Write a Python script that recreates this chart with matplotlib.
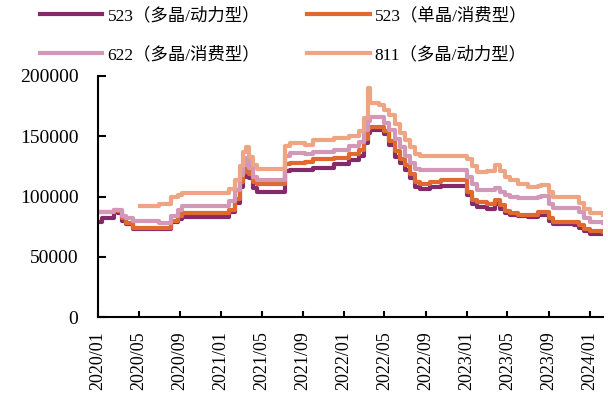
import numpy as np
import pandas as pd
import matplotlib
matplotlib.use("Agg")
from matplotlib import pyplot as plt

plt.rcParams['font.family'] = ['Liberation Serif', 'Noto Sans CJK SC']

dates = ['2020-01-01', '2020-01-13', '2020-02-18', '2020-03-01', '2020-03-13',
         '2020-03-25', '2020-04-15', '2020-05-06', '2020-07-01', '2020-07-25',
         '2020-08-06', '2020-08-25', '2020-09-06', '2021-01-01', '2021-01-25',
         '2021-02-10', '2021-02-25', '2021-03-06', '2021-03-15', '2021-03-25',
         '2021-04-06', '2021-04-18', '2021-07-01', '2021-07-10', '2021-07-25',
         '2021-09-06', '2021-10-01', '2021-12-01', '2022-01-15', '2022-02-15',
         '2022-03-01', '2022-03-13', '2022-03-19', '2022-04-15', '2022-05-01',
         '2022-05-15', '2022-06-01', '2022-06-15', '2022-07-01', '2022-07-15',
         '2022-08-01', '2022-08-15', '2022-09-15', '2022-10-15', '2022-12-15',
         '2023-01-01', '2023-01-15', '2023-02-01', '2023-03-01', '2023-03-25',
         '2023-04-10', '2023-04-25', '2023-05-10', '2023-06-01', '2023-07-01',
         '2023-08-01', '2023-08-10', '2023-09-01', '2023-09-15', '2023-11-15',
         '2023-12-01', '2023-12-15', '2024-01-01', '2024-02-08']

p523_poly = [79000, 82000, 87500, 86000, 80000, 77000, 73000, 73000, 73000, 73000,
             79000, 81500, 83000, 83000, 87000, 95000, 108000, 116000, 125000, 115000,
             107000, 104000, 104000, 121000, 122000, 122000, 124000, 127000, 130000, 134000,
             144000, 153000, 155000, 155000, 152000, 143000, 133000, 128000, 122000, 115000,
             108000, 106000, 108000, 109000, 109000, 101000, 94000, 91500, 90000, 94000,
             90000, 86000, 84700, 83500, 83200, 84500, 85000, 80000, 77000, 76300,
             74000, 71000, 69000, 69000]
p523_mono = [87000, 87000, 89000, 88000, 82000, 78000, 74000, 74000, 74000, 74000,
             80000, 84000, 86000, 86000, 89000, 98000, 112000, 120000, 128000, 119000,
             112000, 110000, 110000, 127000, 128000, 129000, 131000, 132000, 135000, 139000,
             148000, 157000, 158000, 158000, 154000, 146000, 138000, 131000, 126000, 119000,
             112000, 110000, 112000, 114000, 114000, 104000, 97000, 95500, 94000, 97500,
             93000, 88000, 86300, 85000, 84700, 87000, 87400, 82000, 79000, 79000,
             76000, 73000, 71000, 70500]
p622 = [87000, 87000, 89000, 88500, 84000, 82000, 80000, 79500, 78000, 78000,
        84000, 89000, 92000, 92000, 96000, 105000, 118000, 126000, 132000, 124000,
        116000, 114000, 114000, 134000, 136000, 135000, 137000, 139000, 142000, 145000,
        155000, 163000, 166000, 166000, 161000, 155000, 148000, 141000, 134000, 128000,
        123000, 122000, 122000, 122000, 122000, 116500, 110000, 105400, 105000, 107000,
        104000, 101000, 100000, 99000, 98700, 100000, 100500, 94000, 90200, 90200,
        87000, 82000, 79000, 78000]
p811 = [np.nan, np.nan, np.nan, np.nan, np.nan, np.nan, np.nan, 92000, 94000, 94000,
        100000, 101000, 103000, 103000, 106000, 114000, 125000, 137000, 141000, 133000,
        126000, 123000, 123000, 142000, 144000, 143000, 147000, 148500, 150000, 154000,
        165000, 190000, 178000, 176000, 172000, 168000, 160000, 153000, 147000, 141000,
        135000, 134000, 134000, 134000, 134000, 131000, 125000, 120600, 121000, 126000,
        121000, 116000, 113700, 110000, 108000, 108500, 109500, 104000, 100000, 99800,
        95000, 90000, 86000, 84500]

labels = ['523（多晶/动力型）', '523（单晶/消费型）', '622（多晶/消费型）', '811（多晶/动力型）']
colors = ['#852A69', '#E0692F', '#D398B7', '#EDA583']

x = pd.to_datetime(dates)

fig = plt.figure(figsize=(6.08, 4.18), dpi=100)
ax = fig.add_axes([0.161, 0.2416, 0.83, 0.5766])

handles = []
for series, lab, col in zip([p523_poly, p523_mono, p622, p811], labels, colors):
    h, = ax.plot(x, series, drawstyle='steps-post', color=col, lw=3, label=lab)
    handles.append(h)

ax.set_ylim(0, 200000)
ax.set_yticks(np.arange(0, 200001, 50000))
ax.set_xlim(pd.Timestamp('2020-01-01'), pd.Timestamp('2024-02-08'))
ticks = pd.date_range('2020-01-01', '2024-01-01', freq='4MS')
ax.set_xticks(ticks)
ax.set_xticklabels([t.strftime('%Y/%m') for t in ticks], rotation=90)

for s in ['top', 'right']:
    ax.spines[s].set_visible(False)
for s in ['left', 'bottom']:
    ax.spines[s].set_linewidth(1.5)
ax.tick_params(axis='y', direction='in', length=6, width=1.5, labelsize=14, pad=14)
ax.tick_params(axis='x', direction='in', length=4, width=1.5, labelsize=13, pad=10)

# legend fills column-wise, so reorder to get rows like the original
order = [0, 2, 1, 3]
fig.legend([handles[i] for i in order], [labels[i] for i in order],
           loc='upper left', bbox_to_anchor=(0.04, 1.02), ncol=2, frameon=False,
           fontsize=12.5, handlelength=3.6, handletextpad=0.3, columnspacing=2.7,
           labelspacing=1.3)

fig.savefig('out.png', dpi=100)
